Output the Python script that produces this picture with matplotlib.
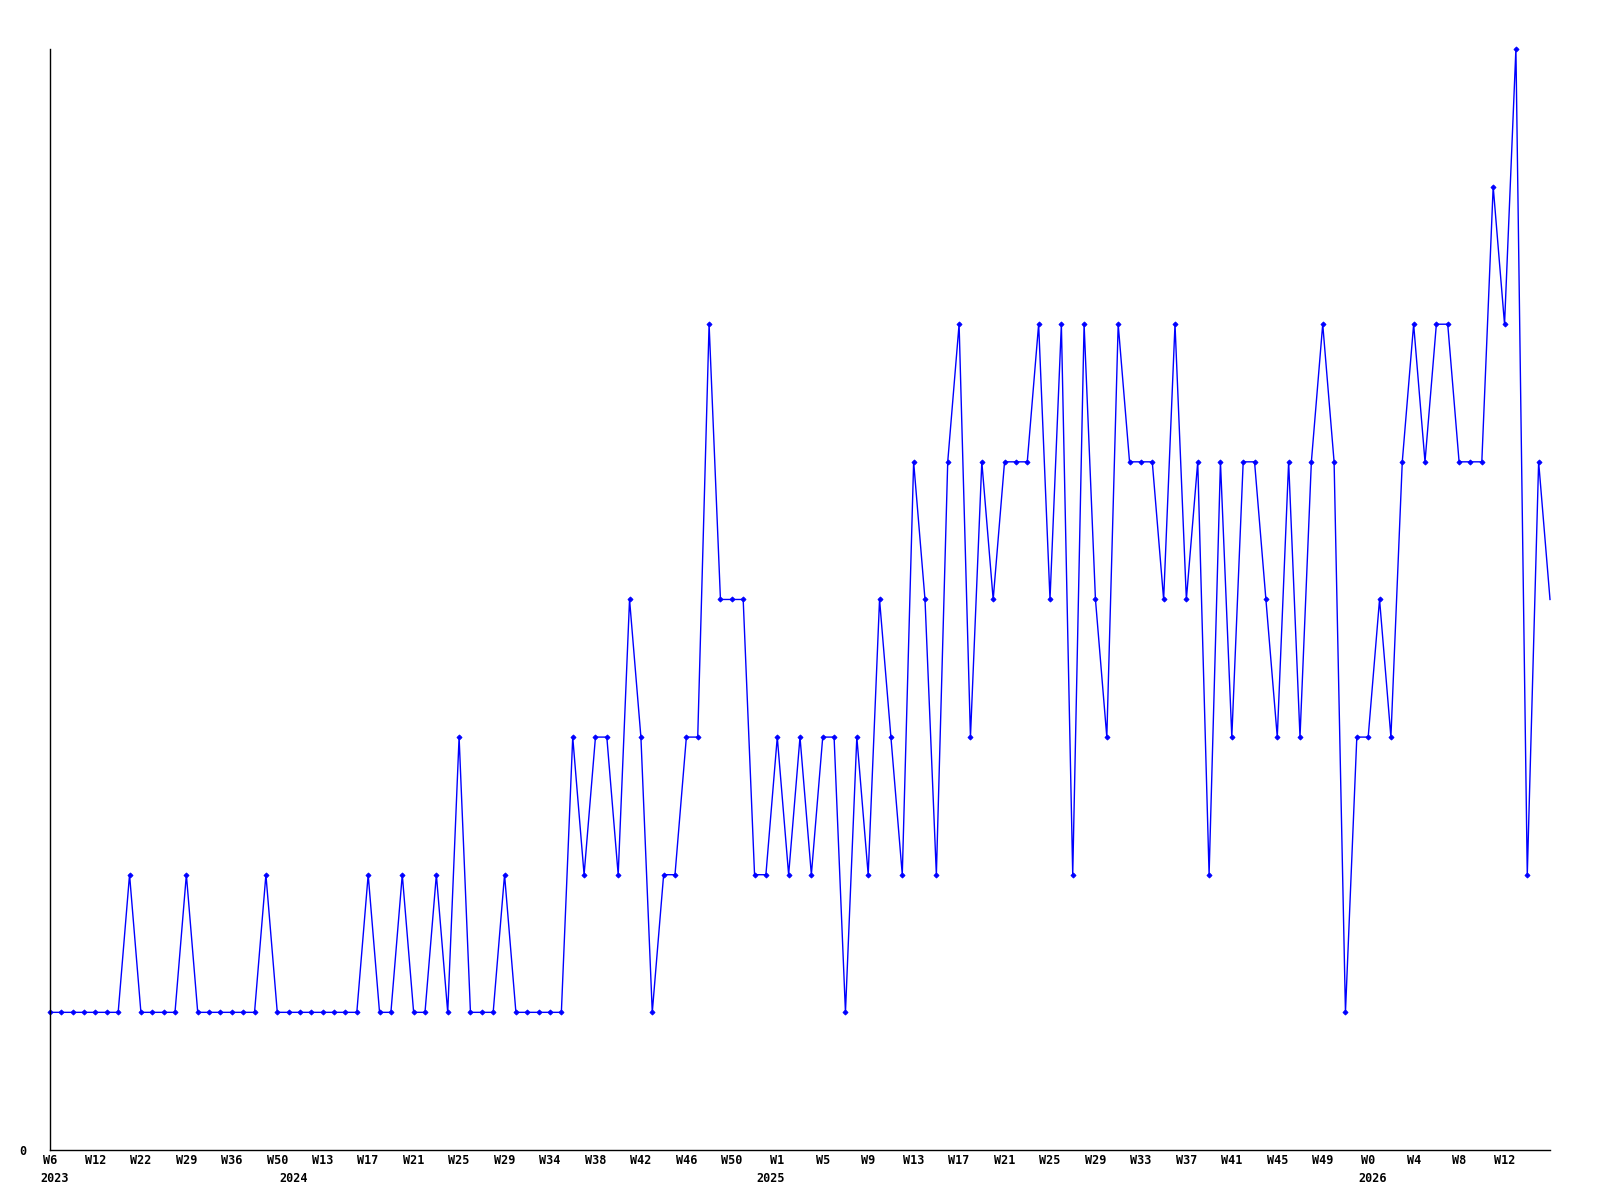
import matplotlib
matplotlib.use("Agg")
import matplotlib.pyplot as plt

# weekly counts, one per point
counts = [1, 1, 1, 1, 1, 1, 1, 2, 1, 1, 1, 1, 2, 1, 1, 1, 1, 1, 1, 2,
          1, 1, 1, 1, 1, 1, 1, 1, 2, 1, 1, 2, 1, 1, 2, 1, 3, 1, 1, 1,
          2, 1, 1, 1, 1, 1, 3, 2, 3, 3, 2, 4, 3, 1, 2, 2, 3, 3, 6, 4,
          4, 4, 2, 2, 3, 2, 3, 2, 3, 3, 1, 3, 2, 4, 3, 2, 5, 4, 2, 5,
          6, 3, 5, 4, 5, 5, 5, 6, 4, 6, 2, 6, 4, 3, 6, 5, 5, 5, 4, 6,
          4, 5, 2, 5, 3, 5, 5, 4, 3, 5, 3, 5, 6, 5, 1, 3, 3, 4, 3, 5,
          6, 5, 6, 6, 5, 5, 5, 7, 6, 8, 2, 5, 4]

week_labels = ["W6", "W12", "W22", "W29", "W36", "W50", "W13", "W17", "W21",
               "W25", "W29", "W34", "W38", "W42", "W46", "W50", "W1", "W5",
               "W9", "W13", "W17", "W21", "W25", "W29", "W33", "W37", "W41",
               "W45", "W49", "W0", "W4", "W8", "W12"]
tick_step = 4

years = ["2023", "2024", "2025", "2026"]
year_pos = [0, 21, 63, 116]

font = dict(family="DejaVu Sans Mono", weight="bold", size=8.5)

fig = plt.figure(figsize=(16, 12), dpi=100)
ax = fig.add_axes([0.03125, 0.0417, 0.9375, 0.9175])

x = list(range(len(counts)))
# last point is drawn without a marker, as in the original
ax.plot(x, counts, color="#0000ff", linewidth=1.0, marker="D",
        markersize=2.6, markeredgewidth=0.6,
        markevery=list(range(len(counts) - 1)), clip_on=False)

ax.set_xlim(0, len(counts) - 1)
ax.set_ylim(0, max(counts))

for s in ["top", "right"]:
    ax.spines[s].set_visible(False)
for s in ["left", "bottom"]:
    ax.spines[s].set_color("black")
    ax.spines[s].set_linewidth(1.0)

ax.set_xticks(range(0, len(week_labels) * tick_step, tick_step))
ax.set_xticklabels(week_labels, **font)
ax.set_yticks([0])
ax.set_yticklabels(["0"], **font)
ax.tick_params(axis="x", length=0, pad=3)
ax.tick_params(axis="y", length=0, pad=17)

for yr, p in zip(years, year_pos):
    ax.annotate(yr, xy=(p, 0), xycoords=("data", "axes fraction"),
                xytext=(-7, -16), textcoords="offset points",
                ha="left", va="top", **font)

fig.savefig("out.png", dpi=100, facecolor="white")
